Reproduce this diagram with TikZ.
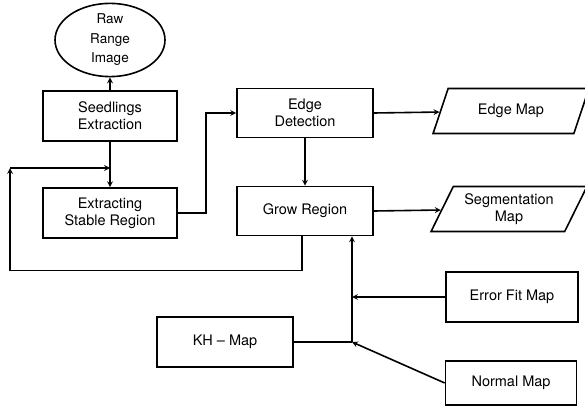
\documentclass[tikz,border=0pt]{standalone}
\usepackage{fontspec}
\setmainfont{TeX Gyre Heros}
\usetikzlibrary{shapes.geometric, arrows}
\tikzstyle{processnode} = [rectangle, 
minimum width=134pt, 
minimum height=50pt,
inner sep=1pt,
align=center,
line width=1.6pt,
draw=black]
\tikzstyle{startnode} = [ellipse, 
minimum width=110pt, 
minimum height=64pt,
inner sep=0pt,
align=center,
line width=1.6pt,
draw=black]
\tikzstyle{io} = [trapezium, 
trapezium stretches=true,
trapezium left angle=60, 
trapezium right angle=120, 
minimum width=156pt, 
minimum height=45pt, 
inner sep=0pt,
align=center,
line width=1.6pt,
draw=black]
\tikzstyle{arrow} = [line width=1.6pt,->,>=stealth]

\begin{document}
\begin{tikzpicture}[x=1pt, y=-1pt, font=\fontsize{14.5}{17}\selectfont]
\useasboundingbox (0,0) rectangle (585,406);

\node (raw) [startnode, font=\fontsize{13.5}{19.5}\selectfont] at (110,40) {Raw\\ Range\\ Image};
\node (seed) [processnode] at (110,116) {Seedlings\\ Extraction};
\node (stable) [processnode] at (110,213) {Extracting\\ Stable Region};

\node (edge) [processnode, minimum width=136pt, minimum height=49pt] at (305,113) {Edge\\ Detection};
\node (grow) [processnode, minimum width=136pt, minimum height=49pt] at (305,211) {Grow Region};

\node (edgemap) [io] at (511,111) {Edge Map};
\node (segmap) [io] at (509,209) {Segmentation\\ Map};

\node (errfit) [processnode, minimum width=132pt] at (512,297) {Error Fit Map};
\node (normal) [processnode, minimum width=131pt, minimum height=44pt] at (511,383) {Normal Map};
\node (kh) [processnode, minimum width=136pt] at (225,342) {KH -- Map};

\coordinate (join) at (352,342);
\coordinate (loopjoin) at (110,168);
\coordinate (loopturn) at (10,168);

\draw [arrow] (seed) -- (raw);
\draw [arrow] (seed) -- (stable);

\draw [arrow] (stable.east) -- ++(28,0) |- (edge.west);
\draw [arrow] (edge.east) -- (edgemap);
\draw [arrow] (edge) -- (grow);
\draw [arrow] (grow.east) -- (segmap);

\draw [arrow] ([xshift=-3pt]grow.south) -- ++(0,34) -| (loopturn);
\draw [arrow] (loopturn) -- (loopjoin);

\draw [line width=1.6pt] (kh.east) -- (join);
\draw [arrow] (join) -- (grow.south -| join);
\draw [arrow] (errfit.west) -- (errfit.west -| join);
\draw [arrow] (normal.west) -- (join);

\end{tikzpicture}
\end{document}
